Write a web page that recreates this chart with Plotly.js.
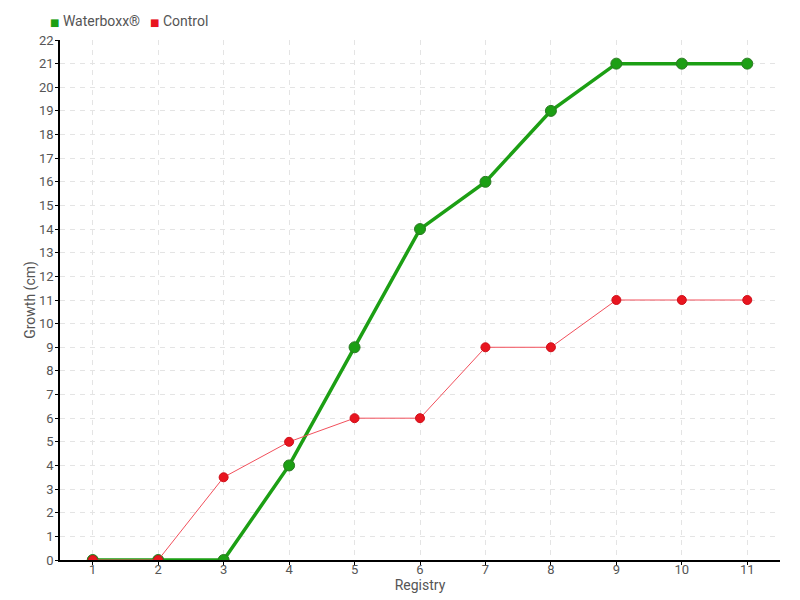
<!DOCTYPE html>
<html>
<head>
<meta charset="utf-8">
<script src="https://cdn.plot.ly/plotly-3.0.1.min.js"></script>
<style>body{margin:0;background:#fff}#chart{width:800px;height:600px}</style>
</head>
<body>
<div id="chart"></div>
<script>
const registry = [1,2,3,4,5,6,7,8,9,10,11];
const waterboxx = [0,0,0,4,9,14,16,19,21,21,21];
const control = [0,0,3.5,5,6,6,9,9,11,11,11];
const yTicks = [0,1,2,3,4,5,6,7,8,9,10,11,12,13,14,15,16,17,18,19,20,21,22];
const seriesNames = ['Waterboxx®', 'Control'];
const greenC = '#1c9f14';
const redC = '#e8151f';

const fontFam = 'Roboto, "DejaVu Sans", sans-serif';

const traces = [
  {
    x: registry, y: waterboxx, name: seriesNames[0], type: 'scatter', mode: 'lines+markers',
    line: {color: greenC, width: 3.5},
    marker: {color: greenC, size: 11, line: {color: '#2a7a22', width: 1}},
    showlegend: false
  },
  {
    x: registry, y: control, name: seriesNames[1], type: 'scatter', mode: 'lines+markers',
    line: {color: '#f2505c', width: 1},
    marker: {color: redC, size: 9, line: {color: '#d0101a', width: 1}},
    showlegend: false
  }
];

const layout = {
  width: 800, height: 600,
  margin: {l: 60, r: 20, t: 40, b: 40},
  paper_bgcolor: '#fff', plot_bgcolor: '#fff',
  font: {family: fontFam, size: 13, color: '#555'},
  showlegend: false,
  annotations: [
    {xref: 'paper', yref: 'paper', x: -0.017, y: 1.0, yshift: 19, xanchor: 'left', yanchor: 'middle', showarrow: false,
     text: '<span style="color:' + greenC + ';font-size:10px">■</span> ' + seriesNames[0], font: {size: 14, color: '#555'}},
    {xref: 'paper', yref: 'paper', x: 0.122, y: 1.0, yshift: 19, xanchor: 'left', yanchor: 'middle', showarrow: false,
     text: '<span style="color:' + redC + ';font-size:10px">■</span> ' + seriesNames[1], font: {size: 14, color: '#555'}}
  ],
  xaxis: {
    range: [0.5, 11.5], tickvals: registry, ticktext: registry.map(String),
    showline: true, linecolor: '#000', linewidth: 1.5,
    ticks: 'outside', ticklen: 3, tickcolor: '#000',
    ticklabelstandoff: -6,
    showgrid: true, gridcolor: '#e4e4e4', griddash: '5px,5px', zeroline: false,
    tickfont: {size: 13, color: '#555'},
    title: {text: 'Registry', font: {size: 14, color: '#555'}, standoff: 0}
  },
  yaxis: {
    range: [0, 22], tickvals: yTicks,
    showline: true, linecolor: '#000', linewidth: 1.5,
    ticks: 'outside', ticklen: 3, tickcolor: '#000',
    ticklabelstandoff: -1,
    showgrid: true, gridcolor: '#e4e4e4', griddash: '5px,5px', zeroline: false,
    tickfont: {size: 13, color: '#555'},
    title: {text: 'Growth (cm)', font: {size: 14, color: '#555'}, standoff: 0}
  }
};

Plotly.newPlot('chart', traces, layout, {displayModeBar: false});
</script>
</body>
</html>
